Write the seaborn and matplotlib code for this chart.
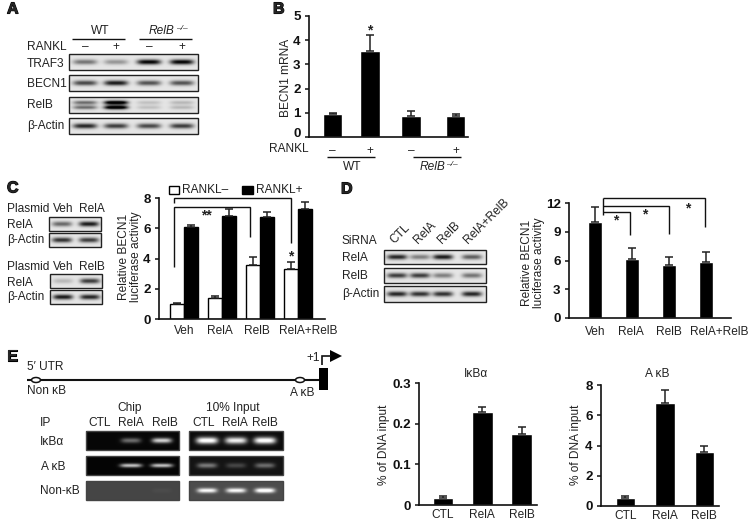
import matplotlib
matplotlib.use('Agg')
import matplotlib.pyplot as plt
import matplotlib.patheffects as pe
from matplotlib.patches import Rectangle, Ellipse, Polygon
from matplotlib.transforms import ScaledTranslation
import numpy as np
import pandas as pd
import seaborn as sns

W, H = 754, 522

# panel B
b_labels = ['–', '+', '–', '+']
b_slots = [0, 1, 2.1, 3.28]
b_vals = [0.95, 3.55, 0.87, 0.87]
b_err = [0.04, 0.67, 0.2, 0.1]

# panel C
c_groups = ['Veh', 'RelA', 'RelB', 'RelA+RelB']
c_minus = [1.0, 1.4, 3.6, 3.3]
c_plus = [6.1, 6.8, 6.75, 7.25]
c_minus_err = [0.05, 0.15, 0.5, 0.5]
c_plus_err = [0.1, 0.45, 0.35, 0.5]

# panel D
d_groups = ['Veh', 'RelA', 'RelB', 'RelA+RelB']
d_vals = [10.0, 6.2, 5.5, 5.85]
d_err = [1.55, 1.15, 0.85, 1.0]

# panel E
e_groups = ['CTL', 'RelA', 'RelB']
e1_vals = [0.018, 0.228, 0.175]
e1_err = [0.005, 0.014, 0.018]
e2_vals = [0.55, 6.8, 3.6]
e2_err = [0.12, 0.85, 0.35]

# band strengths, one value per lane
a_traf3 = [0.5, 0.35, 1.0, 1.0]
a_becn1 = [0.7, 0.9, 0.65, 0.65]
a_relb = [0.4, 0.9, 0.12, 0.15]
a_actin = [0.85, 0.75, 0.7, 0.75]
c_rela1 = [0.55, 0.9]
c_actin1 = [0.8, 0.75]
c_rela2 = [0.2, 0.75]
c_actin2 = [0.9, 0.85]
d_rela = [0.85, 0.45, 0.9, 0.6]
d_relb = [0.75, 0.75, 0.45, 0.5]
d_actin = [0.85, 0.8, 0.8, 0.85]
chip_ikba = [0.0, 0.4, 0.8]
chip_akb = [0.0, 0.75, 0.75]
chip_non = [0.0, 0.0, 0.03]
input_ikba = [1.0, 0.9, 1.0]
input_akb = [0.4, 0.2, 0.35]
input_non = [0.7, 0.7, 0.8]

sns.set_style('ticks')
plt.rcParams['font.family'] = ['Liberation Sans', 'DejaVu Sans']
plt.rcParams['font.size'] = 8.6

fig = plt.figure(figsize=(W / 100, H / 100), dpi=100)

ov = fig.add_axes([0, 0, 1, 1], zorder=5)
ov.patch.set_alpha(0)
ov.axis('off')


def txt(x, y, s, ha='left', **kw):
    kw.setdefault('va', 'center')
    kw.setdefault('color', '#222222')
    ov.text(x, y, s, ha=ha, **kw)


def letter(x, y, s):
    ov.text(x, y, s, ha='left', va='center', fontsize=11.5, fontweight='bold',
            path_effects=[pe.withStroke(linewidth=0.8, foreground='k')])


def line(xs, ys, lw=1.0):
    ov.plot(xs, ys, color='#111111', lw=lw, solid_capstyle='butt', solid_joinstyle='miter')


def blot(x0, y0, x1, y1, centers, strengths, hw=12, hh=2.6, bg=0.9, gel=False, double=False):
    xs = np.linspace(x0, x1, int(x1 - x0) * 3)
    ys = np.linspace(y0, y1, int(y1 - y0) * 3)
    xx, yy = np.meshgrid(xs, ys)
    cy = (y0 + y1) / 2
    signal = np.zeros_like(xx)
    for c, s in zip(centers, strengths):
        across = np.exp(-((xx - c) / hw) ** 4)
        if double:
            down = np.exp(-((yy - cy + 2.6) / 1.7) ** 2) + np.exp(-((yy - cy - 2.6) / 1.7) ** 2)
            down = down + 0.5 * np.exp(-((yy - cy) / 4.5) ** 2)
        else:
            down = np.exp(-((yy - cy) / hh) ** 2)
        signal += s * across * down
    if gel:
        img = np.clip(bg + signal, 0, 1)
    else:
        img = np.clip(bg - 0.9 * signal, 0, 1)
    ov.imshow(img, cmap='gray', vmin=0, vmax=1, extent=[x0, x1, y1, y0], aspect='auto',
              interpolation='bilinear')
    ov.add_patch(Rectangle((x0, y0), x1 - x0, y1 - y0, fill=False, ec='#444444' if gel else '#222222',
                           lw=1.0))


def chart_axes(x0, y_top, x1, y_bot):
    ax = fig.add_axes([x0 / W, 1 - y_bot / H, (x1 - x0) / W, (y_bot - y_top) / H])
    ax.patch.set_alpha(0)
    return ax


def finish(ax, xlim, ylim, ticks, ticklabels, xticks, xlabels, pad):
    ax.set_xlim(*xlim)
    ax.set_ylim(*ylim)
    ax.set_yticks(ticks, ticklabels, fontweight='bold', fontsize=9.6)
    ax.set_xticks(xticks, xlabels, fontsize=8.6)
    ax.tick_params(axis='y', length=3, width=1.1, pad=3, color='#111111', labelcolor='#111111')
    ax.tick_params(axis='x', length=0, pad=pad, labelcolor='#222222')
    ax.set_xlabel('')
    ax.set_ylabel('')
    sns.despine(ax=ax)
    for side in ['left', 'bottom']:
        ax.spines[side].set_linewidth(1.2)
        ax.spines[side].set_color('#111111')


def add_err(ax, patches, errs):
    for p, e in zip(patches, errs):
        ax.errorbar(p.get_x() + p.get_width() / 2, p.get_height(), yerr=[[0], [e]], color='#222222',
                    lw=1.1, capsize=2.6, capthick=1.1, clip_on=False)


def ylabel_at(ax, s, x, y):
    ax.set_ylabel(s, fontsize=8.6, ha='center', va='center', linespacing=1.05, color='#222222')
    ax.yaxis.set_label_coords(x, y, transform=ov.transData)


ov.set_xlim(0, W)
ov.set_ylim(H, 0)

# ---- A: western blots
letter(7, 9, 'A')
txt(100, 31, 'WT', ha='center')
txt(149, 31, 'RelB', style='italic')
txt(176, 28, '–/–', style='italic', fontsize=6)
line([72, 125], [39, 39])
line([139, 192], [39, 39])
txt(27, 47, 'RANKL')
a_lanes = [85, 116, 149, 182]
for x, s in zip(a_lanes, b_labels):
    txt(x, 47, s, ha='center')
for y, s in zip([64, 84, 105, 126], ['TRAF3', 'BECN1', 'RelB', 'β-Actin']):
    txt(27, y, s)
blot(69, 54, 198, 70, a_lanes, a_traf3)
blot(69, 75, 198, 91, a_lanes, a_becn1)
blot(69, 97, 198, 113, a_lanes, a_relb, double=True)
blot(69, 118, 198, 134, a_lanes, a_actin)

# ---- B: mRNA bars
letter(273, 9, 'B')
ax_b = chart_axes(309, 16, 468, 137)
sns.barplot(x=b_slots, y=b_vals, native_scale=True, width=0.53, color='black', errorbar=None,
            saturation=1, ax=ax_b)
add_err(ax_b, ax_b.patches, b_err)
finish(ax_b, (-0.627, 3.613), (0, 5), [0, 1, 2, 3, 4, 5], ['0', '1', '2', '3', '4', '5'],
       b_slots, b_labels, 6)
zero_label = ax_b.get_yticklabels()[0]
zero_label.set_transform(zero_label.get_transform() + ScaledTranslation(0, 3 / 72, fig.dpi_scale_trans))
ylabel_at(ax_b, 'BECN1 mRNA', 286, 78)
txt(269, 149, 'RANKL')
line([327, 375], [157, 157])
line([413, 461], [157, 157])
txt(352, 167, 'WT', ha='center')
txt(420, 167, 'RelB', style='italic')
txt(446, 164, '–/–', style='italic', fontsize=6)
txt(370, 30, '*', ha='center', fontweight='bold', fontsize=10)

# ---- C: blots and luciferase bars
letter(7, 188, 'C')
for y, s in [(209, 'Plasmid'), (225, 'RelA'), (240, 'β-Actin'), (267, 'Plasmid'), (283, 'RelA'), (297, 'β-Actin')]:
    txt(7, y, s)
for y, a, b in [(209, 'Veh', 'RelA'), (267, 'Veh', 'RelB')]:
    txt(63, y, a, ha='center')
    txt(92, y, b, ha='center')
blot(49, 217, 101, 231, [62, 89], c_rela1, hw=10)
blot(49, 233, 101, 247, [62, 89], c_actin1, hw=10)
blot(50, 274, 102, 288, [63, 90], c_rela2, hw=10)
blot(50, 290, 102, 304, [63, 90], c_actin2, hw=10)

c_df = pd.DataFrame({
    'group': c_groups * 2,
    'value': c_minus + c_plus,
    'rankl': ['RANKL–'] * 4 + ['RANKL+'] * 4,
})
ax_c = chart_axes(159, 198, 325, 319)
sns.barplot(data=c_df, x='group', y='value', hue='rankl', order=c_groups, hue_order=['RANKL–', 'RANKL+'],
            palette=['white', 'black'], width=0.74, dodge=True, gap=0, saturation=1, errorbar=None,
            edgecolor='black', linewidth=1.0, legend=False, ax=ax_c)
c_bars = [p for c in ax_c.containers for p in c]
add_err(ax_c, c_bars, c_minus_err + c_plus_err)
finish(ax_c, (-0.658, 3.71), (0, 8), [0, 2, 4, 6, 8], ['0', '2', '4', '6', '8'],
       [0, 0.95, 1.92, 3.26], c_groups, 4)
ylabel_at(ax_c, 'Relative BECN1\nluciferase activity', 130, 257)
ov.add_patch(Rectangle((169, 186), 10, 8, fc='white', ec='black', lw=1.0))
txt(182, 190, 'RANKL–')
ov.add_patch(Rectangle((242, 186), 11, 8, fc='black', ec='black', lw=1.0))
txt(256, 190, 'RANKL+')
line([174, 174, 291, 291], [203, 198, 198, 243])
line([174, 174, 250, 250], [267, 207, 207, 237])
txt(206, 215, '**', ha='center', fontweight='bold', fontsize=10)
txt(291, 256, '*', ha='center', fontweight='bold', fontsize=10)

# ---- D: blots and bars
letter(341, 189, 'D')
for y, s in [(241, 'SiRNA'), (258, 'RelA'), (276, 'RelB'), (294, 'β-Actin')]:
    txt(342, y, s)
d_lanes = [397, 420, 443, 472]
blot(384, 250, 486, 264, d_lanes, d_rela, hw=10)
blot(384, 268, 486, 283, d_lanes, d_relb, hw=10)
blot(384, 286, 486, 302, d_lanes, d_actin, hw=10)
for x, s in zip([396, 420, 444, 470], ['CTL', 'RelA', 'RelB', 'RelA+RelB']):
    ov.text(x, 246, s, rotation=45, rotation_mode='anchor', ha='left', va='bottom', color='#222222')

ax_d = chart_axes(569, 203, 731, 318)
sns.barplot(x=d_groups, y=d_vals, order=d_groups, width=0.38, color='black', saturation=1, errorbar=None,
            ax=ax_d)
add_err(ax_d, ax_d.patches, d_err)
finish(ax_d, (-0.70, 3.68), (0, 12), [0, 3, 6, 9, 12], ['0', '3', '6', '9', '12'],
       [0, 0.986, 2.01, 3.35], d_groups, 6)
ylabel_at(ax_d, 'Relative BECN1\nluciferase activity', 533, 263)
line([603, 603], [198, 215])
line([603, 705, 705], [198, 198, 227])
line([603, 669, 669], [206, 206, 234])
line([603, 630, 630], [212, 212, 235])
for x, y in [(616, 220), (645, 214), (688, 208)]:
    txt(x, y, '*', ha='center', fontweight='bold', fontsize=10)

# ---- E: promoter map
letter(7, 356, 'E')
txt(27, 367, "5′ UTR")
txt(27, 391, 'Non κB')
txt(302, 393, 'A κB', ha='center')
txt(313, 358, '+1', ha='center')
line([27, 319], [380, 380], lw=1.5)
for x in [36, 300]:
    ov.add_patch(Ellipse((x, 380), 9, 5, fc='white', ec='#111111', lw=1.1, zorder=4))
ov.add_patch(Rectangle((319, 368), 9, 22, fc='black', ec='black', lw=0))
line([322, 322, 331], [365, 356, 356], lw=1.2)
ov.add_patch(Polygon([[330, 350], [342, 356], [330, 362]], fc='black', ec='black', lw=0))

# gels
txt(130, 408, 'Chip', ha='center')
txt(233, 408, '10% Input', ha='center')
txt(40, 423, 'IP')
for x, s in zip([100, 131, 165, 204, 235, 265], e_groups * 2):
    txt(x, 423, s, ha='center')
txt(40, 442, 'IκBα')
txt(41, 467, 'A κB')
txt(40, 491, 'Non-κB')
chip_lanes = [100, 131, 162]
input_lanes = [207, 236, 265]
blot(86, 431, 179, 450, chip_lanes, chip_ikba, hw=10, bg=0.03, gel=True)
blot(189, 431, 283, 450, input_lanes, input_ikba, hw=11, hh=3.4, bg=0.05, gel=True)
blot(86, 456, 179, 475, chip_lanes, chip_akb, hw=11, hh=2, bg=0.02, gel=True)
blot(189, 456, 283, 475, input_lanes, input_akb, hw=10, hh=2.6, bg=0.08, gel=True)
blot(86, 481, 179, 500, chip_lanes, chip_non, hw=10, bg=0.27, gel=True)
blot(189, 481, 283, 500, input_lanes, input_non, hw=10, hh=2.4, bg=0.3, gel=True)

# ---- E: bars
ax_e1 = chart_axes(419, 383, 537, 505)
sns.barplot(x=e_groups, y=e1_vals, order=e_groups, width=0.52, color='black', saturation=1, errorbar=None,
            ax=ax_e1)
add_err(ax_e1, ax_e1.patches, e1_err)
finish(ax_e1, (-0.61, 2.39), (0, 0.3), [0, 0.1, 0.2, 0.3], ['0', '0.1', '0.2', '0.3'], [0, 1, 2], e_groups, 3)
ylabel_at(ax_e1, '% of DNA input', 384, 445)
txt(476, 374, 'IκBα', ha='center')

ax_e2 = chart_axes(601, 385, 719, 506)
sns.barplot(x=e_groups, y=e2_vals, order=e_groups, width=0.5, color='black', saturation=1, errorbar=None,
            ax=ax_e2)
add_err(ax_e2, ax_e2.patches, e2_err)
finish(ax_e2, (-0.62, 2.37), (0, 8), [0, 2, 4, 6, 8], ['0', '2', '4', '6', '8'], [0, 1, 2], e_groups, 3)
ylabel_at(ax_e2, '% of DNA input', 576, 445)
txt(657, 374, 'A κB', ha='center')

ov.set_xlim(0, W)
ov.set_ylim(H, 0)

plt.savefig('out.png', dpi=100)
